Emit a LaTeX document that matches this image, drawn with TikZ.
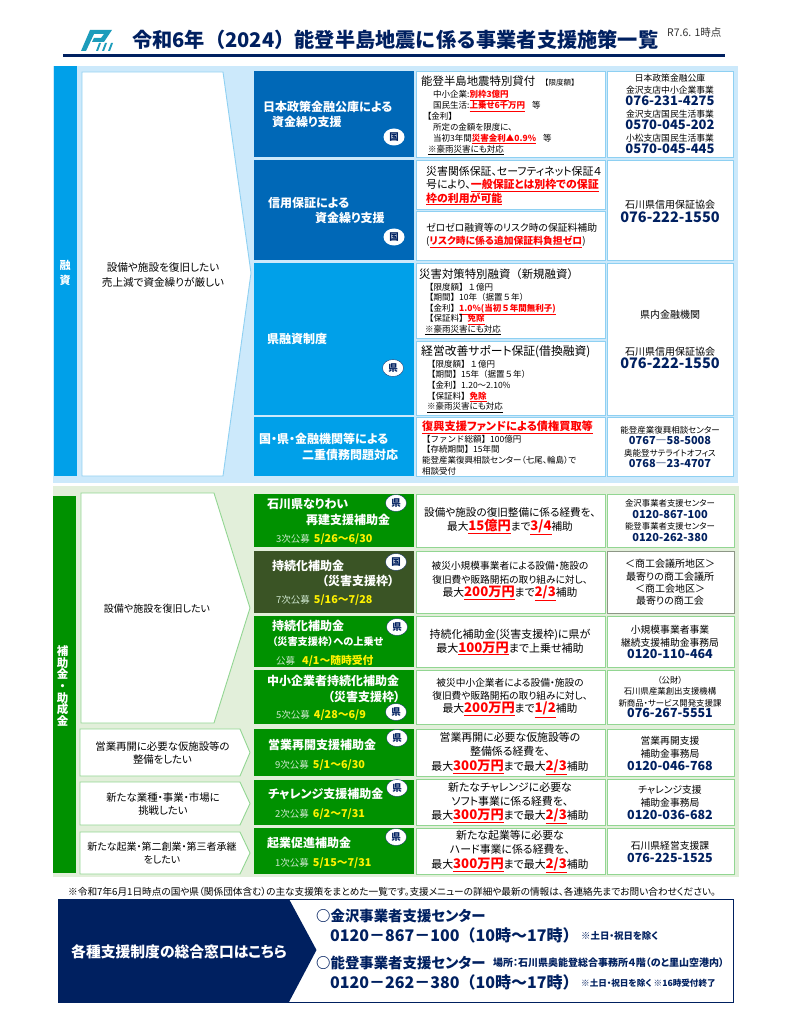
\documentclass[tikz,border=0pt]{standalone}
\usepackage{fontspec}
\setmainfont{Noto Sans CJK JP}[RawFeature=+palt]
\newfontfamily\fw{Noto Sans CJK JP}
\usetikzlibrary{shapes.geometric}
\lineskiplimit=-100pt
\definecolor{navy}{HTML}{002060}
\definecolor{barblue}{HTML}{00A0E9}
\definecolor{deepblue}{HTML}{0068B7}
\definecolor{paleblue}{HTML}{CCE9FB}
\definecolor{edgeblue}{HTML}{8ED0F2}
\definecolor{bargreen}{HTML}{009100}
\definecolor{olive}{HTML}{3A5425}
\definecolor{palegreen}{HTML}{E2EFDA}
\definecolor{edgegreen}{HTML}{92D692}
\definecolor{hotred}{HTML}{FF0000}
\definecolor{logoteal}{HTML}{1C9CBB}
\definecolor{paper}{HTML}{CFE8CF}
\newcommand{\fs}[2]{\fontsize{#1}{#2}\selectfont}
\newcommand{\hot}[1]{\textcolor{hotred}{\bfseries\underline{#1}}}
\newcommand{\hotl}[1]{{\fs{13.2}{13}\hot{#1}}}
\newcommand{\tel}[2]{{\fs{#1}{#1}\bfseries\color{navy}#2}}
\newcommand{\intake}[3]{{\color{paper}\fs{9.5}{9}#1}\hspace{#2}{\color{yellow}\bfseries\fs{10.8}{10}#3}}
\tikzset{
  lbl/.style={inner sep=0pt, anchor=west, align=left},
  ctr/.style={inner sep=0pt, align=center},
  blubox/.style={fill=white, draw=edgeblue, line width=0.9pt},
  grnbox/.style={fill=white, draw=edgegreen, line width=0.9pt},
  btntxt/.style={lbl, text=white, font=\bfseries\fs{12}{15.5}},
  pref/.style={ellipse, fill=white, draw=navy, line width=0.3pt, inner sep=0pt, minimum width=21pt, minimum height=17pt, text=navy, font=\bfseries\fs{9.5}{10}},
}
\begin{document}
\begin{tikzpicture}[x=1pt,y=-1pt]
\useasboundingbox (0,0) rectangle (791,1024);
\fill[white] (0,0) rectangle (791,1024);

% title
\fill[logoteal] (81,51) -- (90,30) -- (112,30) -- (104,42) -- (92,42) -- (94,38) -- (101,38) -- (104,34) -- (94,34) -- (86,51) -- cycle;
\fill[logoteal] (96,51) -- (99,43) -- (101,43) -- (98,51) -- cycle;
\fill[logoteal] (102,51) -- (105,43) -- (107,43) -- (104,51) -- cycle;
\fill[logoteal] (108,51) -- (111,43) -- (113,43) -- (110,51) -- cycle;
\node[lbl, text=navy, font=\bfseries\fw\fs{20.2}{21}] (title) at (132,40) {令和6年（2024）能登半島地震に係る事業者支援施策一覧};
\node[lbl, text=black!80, font=\fs{10.5}{11}] (stamp) at (667,33) {R7.6. 1時点};
\fill[navy] (63,54) rectangle (725,57);

% loans
\fill[paleblue] (53,66) rectangle (738,483);
\fill[barblue] (53.5,66) rectangle (77,476);
\node[ctr, text=white, font=\bfseries\fs{11}{15}] (loanbar) at (65,273) {融\\資};
\draw[blubox] (82,72) -- (223,72) -- (251,273) -- (223,476) -- (82,476) -- cycle;
\node[ctr, font=\fs{10.6}{15}] (loanneed) at (163,274.5) {設備や施設を復旧したい\\売上減で資金繰りが厳しい};

\fill[deepblue] (254,71) rectangle (414,157);
\fill[deepblue] (254,160) rectangle (414,260);
\fill[barblue] (254,263) rectangle (414,415);
\fill[barblue] (254,417) rectangle (414,476);

\node[btntxt] (jfc) at (263,114.5) {日本政策金融公庫による\\\hspace*{9pt}資金繰り支援};
\node[pref, draw=none] (jfcmark) at (394,137) {国};
\node[btntxt] (cgc) at (268,210.5) {信用保証による\\\hspace*{47pt}資金繰り支援};
\node[pref, draw=none] (cgcmark) at (394,237) {国};
\node[btntxt] (pref) at (267,339) {県融資制度};
\node[pref] (prefmark) at (393,368) {県};
\node[btntxt] (debt) at (259,447) {国・県・金融機関等による\\\hspace*{43pt}二重債務問題対応};

\draw[blubox] (416,71) rectangle (605,157);
\draw[blubox] (416,160) rectangle (605,209);
\draw[blubox] (416,211) rectangle (605,260);
\draw[blubox] (416,263) rectangle (605,338);
\draw[blubox] (416,341) rectangle (605,415);
\draw[blubox] (416,417) rectangle (605,476);
\draw[blubox] (607,71) rectangle (733,157);
\draw[blubox] (607,160) rectangle (733,260);
\draw[blubox] (607,263) rectangle (733,415);
\draw[blubox] (607,417) rectangle (733,476);

\node[lbl, font=\fs{8.5}{10.9}] (jfcinfo) at (421,115.5) {{\fs{11.4}{11}能登半島地震特別貸付}\hspace{6pt}{\fw\fs{7.5}{8}【限度額】}\\[1pt]
\hspace*{12pt}中小企業:\hot{別枠3億円}\\
\hspace*{12pt}国民生活:\hot{上乗せ6千万円}\hspace{7pt}等\\
\hspace*{6pt}【金利】\\
\hspace*{12pt}所定の金額を限度に、\\
\hspace*{12pt}当初3年間\hot{災害金利▲0.9\%}\hspace{7pt}等\\
\hspace*{7pt}\underline{※豪雨災害にも対応}};
\node[lbl, font=\fs{10.9}{13.5}] (guarantee) at (426,185.5) {災害関係保証、セーフティネット保証４\\号により、\hot{一般保証とは別枠での保証}\\\hot{枠の利用が可能}};
\node[lbl, font=\fs{9.8}{13}] (zerozero) at (426,235.5) {ゼロゼロ融資等のリスク時の保証料補助\\(\hot{リスク時に係る追加保証料負担ゼロ})};
\node[lbl, font=\fs{8.5}{10.6}] (newloan) at (419,302) {{\fw\fs{11.4}{11}災害対策特別融資（新規融資）}\\[1pt]
\hspace*{6pt}{\fw【限度額】１億円}\\
\hspace*{6pt}{\fw【期間】10年（据置５年）}\\
\hspace*{6pt}{\fw【金利】\hot{1.0\%(当初５年間無利子)}}\\
\hspace*{6pt}{\fw【保証料】\hot{免除}}\\
\hspace*{6pt}\underline{※豪雨災害にも対応}};
\node[lbl, font=\fs{8.5}{10.6}] (refinance) at (421,379) {{\fs{11.8}{11}経営改善サポート保証(借換融資)}\\[1pt]
\hspace*{6pt}{\fw【限度額】１億円}\\
\hspace*{6pt}{\fw【期間】15年（据置５年）}\\
\hspace*{6pt}{\fw【金利】1.20～2.10\%}\\
\hspace*{6pt}{\fw【保証料】\hot{免除}}\\
\hspace*{6pt}\underline{※豪雨災害にも対応}};
\node[lbl, font=\fs{8.5}{10.6}] (fund) at (422,448) {{\fs{11.2}{11}\hot{復興支援ファンドによる債権買取等}}\\[1pt]
{\fw【ファンド総額】}100億円\\
{\fw【存続期間】}15年間\\
能登産業復興相談センター（七尾、輪島）で\\
相談受付};

\node[ctr, font=\fs{8.8}{12.1}] (jfctel) at (670,114) {日本政策金融公庫\\金沢支店中小企業事業\\\tel{13}{076-231-4275}\\金沢支店国民生活事業\\\tel{13}{0570-045-202}\\小松支店国民生活事業\\\tel{13}{0570-045-445}};
\node[ctr, font=\fs{10}{14}] (cgctel) at (670,211) {石川県信用保証協会\\\tel{14.5}{076-222-1550}};
\node[ctr, font=\fs{10}{13}] (banktel) at (670,339) {県内金融機関\\[24pt]石川県信用保証協会\\\tel{14.5}{076-222-1550}};
\node[ctr, font=\fs{8.5}{11.4}] (fundtel) at (670,447) {能登産業復興相談センター\\\tel{11}{0767―58-5008}\\奥能登サテライトオフィス\\\tel{11}{0768―23-4707}};

% grants
\fill[palegreen] (53,486) rectangle (739,877);
\fill[bargreen] (53,496) rectangle (76,873);
\node[ctr, text=white, font=\bfseries\fs{11.5}{11.6}] (grantbar) at (62.5,686) {補\\助\\金\\・\\助\\成\\金};
\draw[grnbox] (81,493) -- (214,493) -- (250,608) -- (214,723) -- (81,723) -- cycle;
\node[ctr, font=\fs{10}{12}] (grantneed) at (157,609) {設備や施設を復旧したい};
\draw[grnbox] (80,729) -- (240,729) -- (250,752.5) -- (240,776) -- (80,776) -- cycle;
\node[ctr, font=\fs{10.4}{12.5}] (reopenneed) at (162.5,753) {営業再開に必要な仮施設等の\\整備をしたい};
\draw[grnbox] (80,782) -- (240,782) -- (250,803.5) -- (240,825) -- (80,825) -- cycle;
\node[ctr, font=\fs{10.4}{13.5}] (challengeneed) at (163,804) {新たな業種・事業・市場に\\挑戦したい};
\draw[grnbox] (80,832) -- (240,832) -- (250,853) -- (240,874) -- (80,874) -- cycle;
\node[ctr, font=\fs{10}{12.5}] (startupneed) at (162,853) {新たな起業・第二創業・第三者承継\\をしたい};

\fill[bargreen] (254,494) rectangle (414,547);
\fill[olive] (254,551) rectangle (414,613);
\fill[bargreen] (254,616) rectangle (414,667);
\fill[bargreen] (254,670) rectangle (414,724);
\fill[bargreen] (254,729) rectangle (414,776);
\fill[bargreen] (254,780) rectangle (414,825);
\fill[bargreen] (254,828) rectangle (414,874);

\node[btntxt] (nariwai) at (267,512) {石川県なりわい\\\hspace*{39pt}再建支援補助金};
\node[lbl] (nariwaidate) at (276,539) {\intake{3次公募}{4pt}{5/26～6/30}};
\node[pref] (nariwaimark) at (396,503) {県};
\node[btntxt] (jizoku) at (272,573.5) {持続化補助金\\\hspace*{50pt}（災害支援枠）};
\node[lbl] (jizokudate) at (276,600) {\intake{7次公募}{4pt}{5/16～7/28}};
\node[pref] (jizokumark) at (396,562) {国};
\node[btntxt] (uwanose) at (272,633.5) {持続化補助金\\{\fs{10.2}{10}（災害支援枠）への上乗せ}};
\node[lbl] (uwanosedate) at (276,661) {\intake{公募}{7pt}{4/1～随時受付}};
\node[pref] (uwanosemark) at (397,627) {県};
\node[btntxt] (chusho) at (267,689) {中小企業者持続化補助金\\\hspace*{61pt}（災害支援枠）};
\node[lbl] (chushodate) at (276,715) {\intake{5次公募}{4pt}{4/28～6/9}};
\node[pref] (chushomark) at (396,712) {県};
\node[btntxt] (saikai) at (268,745) {営業再開支援補助金};
\node[lbl] (saikaidate) at (275,765) {\intake{9次公募}{4pt}{5/1～6/30}};
\node[pref] (saikaimark) at (397,738) {県};
\node[btntxt] (challenge) at (268,794) {チャレンジ支援補助金};
\node[lbl] (challengedate) at (275,814) {\intake{2次公募}{4pt}{6/2～7/31}};
\node[pref] (challengemark) at (397,788) {県};
\node[btntxt] (kigyo) at (267,843) {起業促進補助金};
\node[lbl] (kigyodate) at (275,863) {\intake{1次公募}{4pt}{5/15～7/31}};
\node[pref] (kigyomark) at (396,837) {県};

\draw[grnbox] (416,494) rectangle (605,547);
\draw[grnbox] (416,551) rectangle (605,613);
\draw[grnbox] (416,616) rectangle (605,667);
\draw[grnbox] (416,670) rectangle (605,724);
\draw[grnbox] (416,729) rectangle (605,776);
\draw[grnbox] (416,779) rectangle (605,825);
\draw[grnbox] (416,828) rectangle (605,874);
\draw[grnbox] (607,494) rectangle (734,547);
\draw[draw=olive!50!gray!70, fill=white, line width=0.9pt] (607,551) rectangle (734,613);
\draw[grnbox] (607,616) rectangle (734,667);
\draw[grnbox] (607,670) rectangle (734,724);
\draw[grnbox] (607,729) rectangle (734,776);
\draw[grnbox] (607,779) rectangle (734,825);
\draw[grnbox] (607,828) rectangle (734,874);

\node[ctr, font=\fs{10.6}{14}] (nariwaitext) at (510,521) {設備や施設の復旧整備に係る経費を、\\最大\hotl{15億円}まで\hotl{3/4}補助};
\node[ctr, font=\fs{9.7}{13.4}] (jizokutext) at (510,581.5) {被災小規模事業者による設備・施設の\\復旧費や販路開拓の取り組みに対し、\\{\fs{10.8}{11}最大\hotl{200万円}まで\hotl{2/3}補助}};
\node[ctr, font=\fs{11}{14}] (uwanosetext) at (510,642) {持続化補助金(災害支援枠)に県が\\最大\hotl{100万円}まで上乗せ補助};
\node[ctr, font=\fs{9.7}{13}] (chushotext) at (510,698) {被災中小企業者による設備・施設の\\復旧費や販路開拓の取り組みに対し、\\{\fs{10.8}{11}最大\hotl{200万円}まで\hotl{1/2}補助}};
\node[ctr, font=\fs{10.9}{14.5}] (saikaitext) at (510,753.5) {営業再開に必要な仮施設等の\\整備係る経費を、\\最大\hotl{300万円}まで最大\hotl{2/3}補助};
\node[ctr, font=\fs{10.9}{14}] (challengetext) at (510,803) {新たなチャレンジに必要な\\ソフト事業に係る経費を、\\最大\hotl{300万円}まで最大\hotl{2/3}補助};
\node[ctr, font=\fs{10.9}{14.5}] (kigyotext) at (510,851.5) {新たな起業等に必要な\\ハード事業に係る経費を、\\最大\hotl{300万円}まで最大\hotl{2/3}補助};

\node[ctr, font=\fs{8.4}{11.6}] (nariwaitel) at (670,520.5) {金沢事業者支援センター\\\tel{11}{0120-867-100}\\能登事業者支援センター\\\tel{11}{0120-262-380}};
\node[ctr, font=\fs{10}{12.3}] (jizokutel) at (670,582.5) {＜商工会議所地区＞\\最寄りの商工会議所\\＜商工会地区＞\\最寄りの商工会};
\node[ctr, font=\fs{9.8}{12.6}] (uwanosetel) at (670,642) {小規模事業者事業\\継続支援補助金事務局\\\tel{12.5}{0120-110-464}};
\node[ctr, font=\fs{8.4}{11.4}] (chushotel) at (670,697) {（公財）\\石川県産業創出支援機構\\新商品・サービス開発支援課\\\tel{12.5}{076-267-5551}};
\node[ctr, font=\fs{9.8}{13}] (saikaitel) at (670,753) {営業再開支援\\補助金事務局\\\tel{12.5}{0120-046-768}};
\node[ctr, font=\fs{9.8}{13}] (challengetel) at (670,802) {チャレンジ支援\\補助金事務局\\\tel{12.5}{0120-036-682}};
\node[ctr, font=\fs{9.8}{13}] (kigyotel) at (670,851.5) {石川県経営支援課\\\tel{12.5}{076-225-1525}};

% contact
\node[lbl, font=\fs{9.65}{10}] (remark) at (68,892) {※令和7年6月1日時点の国や県（関係団体含む）の主な支援策をまとめた一覧です。支援メニューの詳細や最新の情報は、各連絡先までお問い合わせください。};
\draw[fill=white, draw=navy, line width=1pt] (58,899) rectangle (733,1002);
\fill[navy] (58,899) -- (289,899) -- (316.5,950) -- (289,1002) -- (58,1002) -- cycle;
\node[ctr, text=white, font=\bfseries\fs{14.8}{15}] (contact) at (179,952) {各種支援制度の総合窓口はこちら};
\node[lbl, text=navy, font=\bfseries\fs{14.4}{15}] (kanazawa) at (316,916) {○金沢事業者支援センター};
\node[lbl, text=navy, font=\bfseries\fw\fs{16}{16}] (kanazawatel) at (330,935) {0120－867－100（10時～17時）};
\node[lbl, text=navy, font=\bfseries\fs{9.4}{9}] (kanazawanote) at (581,936) {※土日・祝日を除く};
\node[lbl, text=navy, font=\bfseries\fs{14.4}{15}] (noto) at (316,963) {○能登事業者支援センター};
\node[lbl, text=navy, font=\bfseries\fs{10}{10}] (notoplace) at (493,963) {場所：石川県奥能登総合事務所４階（のと里山空港内）};
\node[lbl, text=navy, font=\bfseries\fw\fs{16}{16}] (nototel) at (330,982) {0120－262－380（10時～17時）};
\node[lbl, text=navy, font=\bfseries\fs{8.6}{9}] (notonote) at (581,983) {※土日・祝日を除く ※16時受付終了};
\end{tikzpicture}
\end{document}
